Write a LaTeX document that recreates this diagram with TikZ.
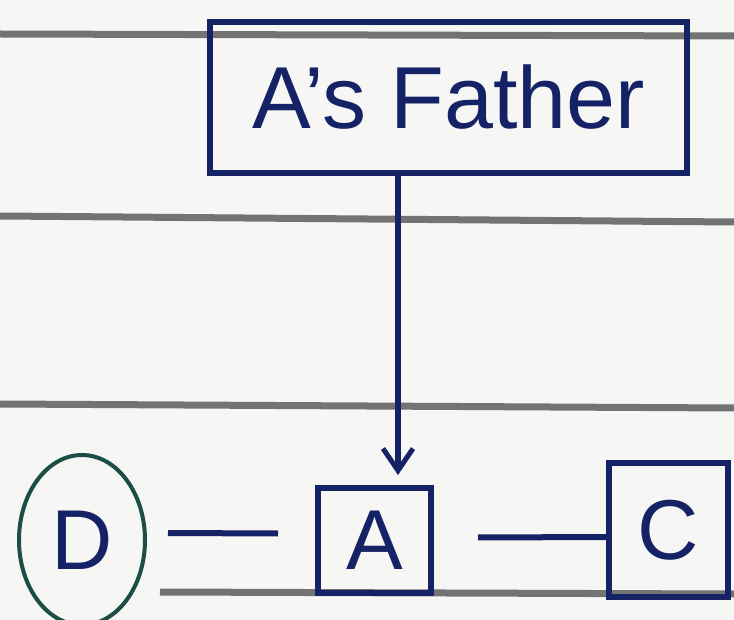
\documentclass[tikz,border=0pt]{standalone}
\usepackage{fontspec}
\setmainfont{Liberation Sans}
\usetikzlibrary{arrows.meta,shapes.geometric}
\definecolor{ink}{RGB}{22,34,102}
\definecolor{greenink}{RGB}{28,78,72}
\definecolor{paper}{RGB}{246,246,244}
\definecolor{rule}{RGB}{115,115,115}
\tikzset{
  inkbox/.style={draw=ink, line width=6pt, rectangle, inner sep=0pt, text=ink},
  inkline/.style={draw=ink, line width=6pt},
  ruleline/.style={draw=rule, line width=7pt},
}
\begin{document}
\begin{tikzpicture}[x=1pt,y=-1pt]
\fill[paper] (0,0) rectangle (734,620);
\useasboundingbox (0,0) rectangle (734,620);
% ruled paper lines
\draw[ruleline] (0,34) -- (734,36);
\draw[ruleline] (0,216) -- (734,222);
\draw[ruleline] (0,404) -- (734,408);
\draw[ruleline] (160,592) -- (734,594);
% nodes
\node[inkbox, minimum width=477pt, minimum height=151pt, font=\fontsize{88}{90}\selectfont] (F) at (448.5,97.5) {A’s Father};
\node[inkbox, minimum width=113pt, minimum height=105pt, font=\fontsize{85}{85}\selectfont] (A) at (374.5,540.5) {A};
\node[inkbox, minimum width=119pt, minimum height=134pt, font=\fontsize{85}{85}\selectfont] (C) at (668.5,530) {C};
\node[draw=greenink, line width=4pt, ellipse, inner sep=0pt, minimum width=126pt, minimum height=170pt, text=ink, font=\fontsize{85}{85}\selectfont] (D) at (82,540) {D};
% connectors
\draw[inkline, -{Straight Barb[length=22pt,width=30pt,line width=5pt]}] ([xshift=-50.5pt]F.south) -- ([xshift=23.5pt,yshift=10pt]A.north);
\draw[inkline] ([xshift=21pt,yshift=7pt]D.east) -- ([xshift=-37pt,yshift=7pt]A.west);
\draw[inkline] ([xshift=44pt,yshift=3pt]A.east) -- ([yshift=-7pt]C.west);
\end{tikzpicture}
\end{document}
